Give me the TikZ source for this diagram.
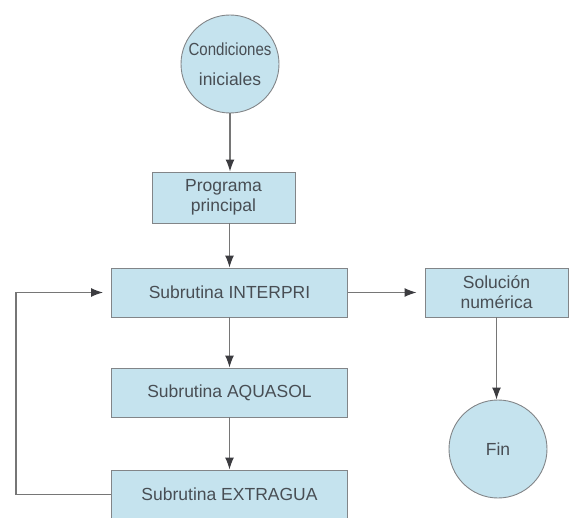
\documentclass[tikz,border=0pt]{standalone}
\usepackage{fontspec}
\setmainfont{Liberation Sans}
\usepackage{graphicx}
\usepackage{tikz}
\usetikzlibrary{arrows.meta}
\definecolor{boxFill}{RGB}{197, 227, 238}
\definecolor{boxLine}{RGB}{130, 133, 136}
\definecolor{lineColor}{RGB}{118, 118, 118}
\definecolor{tipColor}{RGB}{60, 60, 64}
\definecolor{textColor}{RGB}{72, 78, 84}
\tikzset{
    flow_box/.style={
        rectangle,
        draw=boxLine,
        fill=boxFill,
        line width=0.9pt,
        text=textColor,
        minimum width=236pt,
        minimum height=49pt,
        inner sep=0pt,
        align=center,
        font=\fontsize{17.5}{20}\selectfont
    },
    flow_circle/.style={
        circle,
        draw=boxLine,
        fill=boxFill,
        line width=0.9pt,
        text=textColor,
        minimum size=98pt,
        inner sep=0pt,
        align=center,
        font=\fontsize{17.5}{20}\selectfont
    },
    flow_edge/.style={
        ->,
        >={Latex[length=12pt, width=9pt, color=tipColor]},
        draw=lineColor,
        line width=1.3pt
    },
    side_edge/.style={
        flow_edge,
        shorten >=8pt
    }
}

\begin{document}
\begin{tikzpicture}[x=1pt, y=-1pt]
        \useasboundingbox (0,0) rectangle (572,518);

        \node[flow_circle] (cond) at (230,64)
            {\scalebox{0.86}[1]{Condiciones}\\[10pt]iniciales};
        \node[flow_box, minimum width=143pt, minimum height=51pt] (prog) at (223.5,197.5)
            {Programa\\principal};
        \node[flow_box] (interpri) at (229.5,292.5) {Subrutina INTERPRI};
        \node[flow_box] (aquasol) at (229.5,392.5) {Subrutina AQUASOL};
        \node[flow_box] (extragua) at (229.5,494.5) {Subrutina EXTRAGUA};
        \node[flow_box, minimum width=143pt] (sol) at (496.5,292.5)
            {Solución\\numérica};
        \node[flow_circle] (fin) at (498,449) {Fin};
        \coordinate (loop_corner) at (16,494.5);

        \draw[flow_edge] (cond.south) -- (cond.south |- prog.north);
        \draw[flow_edge] (prog.south -| interpri.north) -- (interpri.north);
        \draw[flow_edge] (interpri.south) -- (aquasol.north);
        \draw[flow_edge] (aquasol.south) -- (extragua.north);
        \draw[side_edge] (extragua.west) -- (loop_corner) |- (interpri.west);
        \draw[side_edge] (interpri.east) -- (sol.west);
        \draw[flow_edge] (sol.south) -- (sol.south |- fin.north);
    \end{tikzpicture}
\end{document}
